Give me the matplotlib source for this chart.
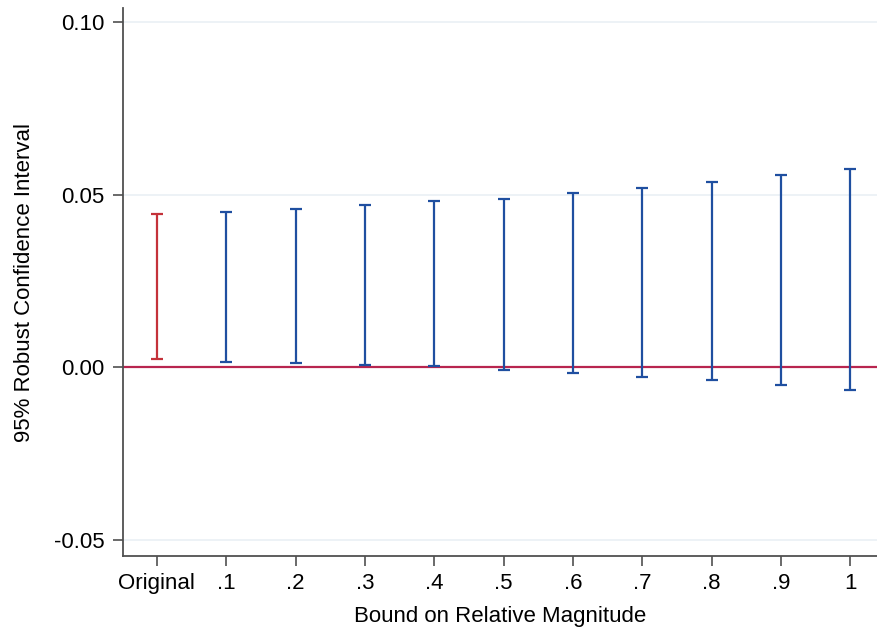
import matplotlib
matplotlib.use("Agg")
import matplotlib.pyplot as plt
import numpy as np

plt.rcParams['font.family'] = ['Liberation Sans', 'DejaVu Sans']

labels = ["Original", ".1", ".2", ".3", ".4", ".5", ".6", ".7", ".8", ".9", "1"]
lower = [0.0023, 0.0017, 0.0012, 0.0008, 0.0003, -0.0006, -0.0016, -0.0027, -0.0036, -0.0050, -0.0064]
upper = [0.0443, 0.0449, 0.0458, 0.0469, 0.0483, 0.0489, 0.0505, 0.0519, 0.0537, 0.0557, 0.0575]
yticks = [-0.05, 0.00, 0.05, 0.10]
ytick_labels = ["-0.05", "0.00", "0.05", "0.10"]

red = "#c4323a"
blue = "#1f4fa0"
zero_col = "#b8254f"

fig = plt.figure(figsize=(8.78, 6.35), dpi=100)
ax = fig.add_axes([0.140, 0.1244, 0.860, 0.8626])

x = np.arange(len(labels))
lo = np.array(lower)
hi = np.array(upper)
mid = (lo + hi) / 2
for i in range(len(labels)):
    c = red if i == 0 else blue
    ax.errorbar([x[i]], [mid[i]], yerr=[[mid[i] - lo[i]], [hi[i] - mid[i]]],
                fmt='none', ecolor=c, elinewidth=1.6, capsize=4.3, capthick=1.6, zorder=3)

ax.axhline(0, color=zero_col, lw=1.6, zorder=2)
for yt in yticks:
    if yt != 0:
        ax.axhline(yt, color="#eaf0f5", lw=1.2, zorder=1)

ax.set_xlim(-0.49, 10.40)
ax.set_ylim(-0.0546, 0.104)
ax.set_xticks(x)
ax.set_xticklabels(labels)
ax.set_yticks(yticks)
ax.set_yticklabels(ytick_labels)

for s in ["top", "right"]:
    ax.spines[s].set_visible(False)
for s in ["left", "bottom"]:
    ax.spines[s].set_color("#505050")
    ax.spines[s].set_linewidth(1.3)
ax.tick_params(axis='both', length=7, width=1.2, color="#505050", labelsize=16, pad=5)
ax.tick_params(axis='y', pad=6)

ax.set_xlabel("Bound on Relative Magnitude", fontsize=16, labelpad=9)
ax.set_ylabel("95% Robust Confidence Interval", fontsize=16, labelpad=14)

fig.savefig("out.png", dpi=100)
